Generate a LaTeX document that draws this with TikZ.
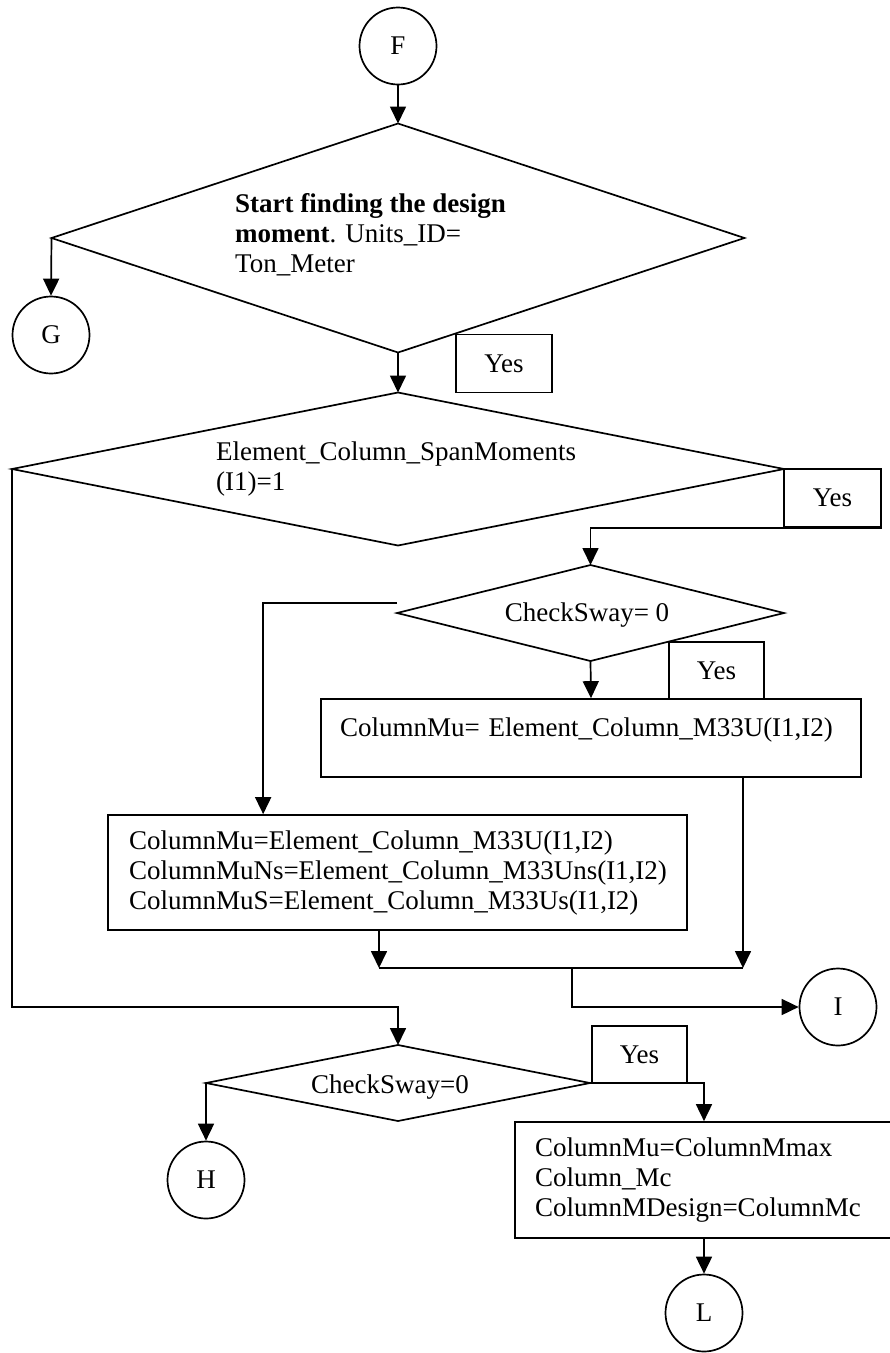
\documentclass[tikz,border=0pt]{standalone}
\usepackage{fontspec}
\setmainfont{Liberation Serif}
\usepackage{tikz}
\usetikzlibrary{positioning,arrows.meta,shapes.geometric,calc}
\tikzset{
  conn/.style={draw,circle,line width=1.7pt,minimum size=77pt,inner sep=0pt},
  dec/.style={draw,diamond,line width=1.7pt,inner sep=0pt,outer sep=0pt},
  proc/.style={draw,rectangle,line width=1.7pt,align=left,inner ysep=0pt},
  yesbox/.style={draw,rectangle,line width=1.7pt,minimum width=96pt,minimum height=58pt,inner sep=0pt},
  txt/.style={inner sep=0pt,align=left},
  arr/.style={line width=1.7pt,-{Triangle[length=17pt,width=16pt]}},
}
\begin{document}
\begin{tikzpicture}[x=1pt,y=-1pt,font=\fontsize{27}{30}\selectfont]
  \fill[white] (0,0) rectangle (890,1353);
  \useasboundingbox (0,0) rectangle (890,1353);

  % connectors and decisions
  \node[conn] (F) at (398,46) {F};
  \node[dec,minimum width=693pt,minimum height=229pt] (dec1) at (398,238) {};
  \node[txt,anchor=north west] (dec1txt) at (235,193)
    {\textbf{Start finding the design}\\\textbf{moment}. Units\_ID=\\Ton\_Meter};
  \node[conn] (G) at (51,335) {G};
  \node[yesbox] (yes1) at (504,363.5) {Yes};

  \node[dec,minimum width=772pt,minimum height=153pt] (dec2) at (398,469) {};
  \node[txt,anchor=north west] (dec2txt) at (216,442)
    {Element\_Column\_SpanMoments\\(I1)=1};
  \node[yesbox,minimum width=97pt] (yes2) at (832.5,498) {Yes};

  \node[dec,minimum width=387pt,minimum height=96pt] (dec3) at (590.5,613) {};
  \node[txt,anchor=base] (dec3txt) at (587,621) {CheckSway= 0};
  \node[yesbox,minimum width=95pt,minimum height=57pt] (yes3) at (716.5,670.5) {Yes};

  % process boxes
  \node[proc,inner xsep=19pt,text width=502pt,minimum height=78pt,
    text height=18pt,text depth=22pt] (box1) at (591,738)
    {ColumnMu= Element\_Column\_M33U(I1,I2)};
  \node[proc,inner xsep=21pt,text width=537pt,minimum height=115pt] (box2) at (397.5,872.5)
    {ColumnMu=Element\_Column\_M33U(I1,I2)\\
     ColumnMuNs=Element\_Column\_M33Uns(I1,I2)\\
     ColumnMuS=Element\_Column\_M33Us(I1,I2)};

  \coordinate (jl) at (379,968);
  \coordinate (jr) at (743,968);
  \coordinate (jm) at (572,968);
  \node[conn] (I) at (838,1007) {I};

  \node[dec,minimum width=384pt,minimum height=76pt] (dec4) at (398,1083) {};
  \node[txt,anchor=base] (dec4txt) at (390,1093) {CheckSway=0};
  \node[yesbox,minimum width=95pt,minimum height=57pt] (yes4) at (639.5,1054.5) {Yes};
  \node[conn] (H) at (206,1180) {H};

  \node[proc,inner xsep=20pt,text width=345pt,minimum height=116pt] (box3) at (707.5,1180)
    {ColumnMu=ColumnMmax\\Column\_Mc\\ColumnMDesign=ColumnMc};
  \node[conn] (L) at (704,1313) {L};

  % flow
  \draw[arr] (F.south) -- (dec1.north);
  \draw[arr] (dec1.west) -- (G.north);
  \draw[arr] (dec1.south) -- (dec2.north);
  \draw[arr] (yes2.south east) -| (dec3.north);
  \draw[arr] ([yshift=10pt]dec3.west) -| ([xshift=156pt]box2.north west);
  \draw[arr] (dec3.south) -- (box1.north);
  \draw[arr] (jl |- box2.south) -- (jl);
  \draw[arr] (jr |- box1.south) -- (jr);
  \draw[line width=1.7pt] (jl) -- (jr);
  \draw[arr] (jm) |- (I.west);
  \draw[arr] (dec2.west) |- (dec4.north |- I.west) -- (dec4.north);
  \draw[arr] (dec4.west) -- (H.north);
  \draw[arr] (dec4.east) -| (L |- box3.north);
  \draw[arr] (L |- box3.south) -- (L.north);
\end{tikzpicture}
\end{document}
